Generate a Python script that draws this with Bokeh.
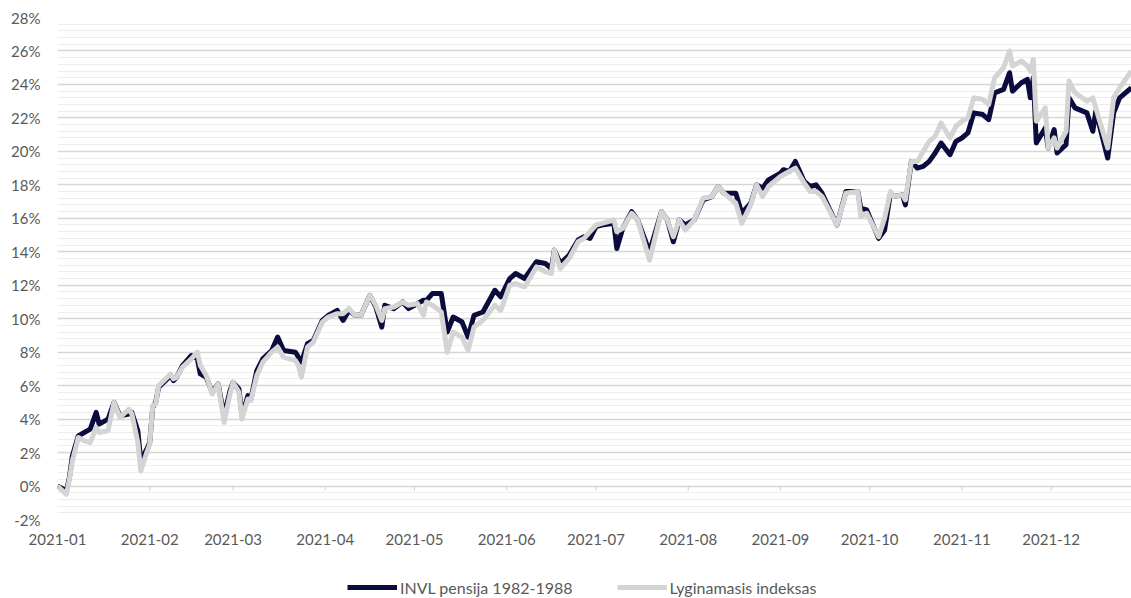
from datetime import datetime
import pandas as pd
from bokeh.plotting import figure
from bokeh.layouts import column
from bokeh.models import (ColumnDataSource, Range1d, FixedTicker, SingleIntervalTicker,
                          DatetimeTickFormatter, PrintfTickFormatter, Legend, LegendItem)
from bokeh.embed import file_html
from bokeh.resources import INLINE

dates = ["2021-01-01", "2021-01-04", "2021-01-05", "2021-01-06", "2021-01-08", "2021-01-10",
         "2021-01-12", "2021-01-14", "2021-01-15", "2021-01-18", "2021-01-20", "2021-01-22",
         "2021-01-25", "2021-01-26", "2021-01-28", "2021-01-29", "2021-01-31", "2021-02-01",
         "2021-02-02", "2021-02-03", "2021-02-04", "2021-02-08", "2021-02-09", "2021-02-10",
         "2021-02-12", "2021-02-15", "2021-02-17", "2021-02-18", "2021-02-20", "2021-02-22",
         "2021-02-24", "2021-02-26", "2021-02-28", "2021-03-01", "2021-03-03", "2021-03-04",
         "2021-03-06", "2021-03-07", "2021-03-09", "2021-03-11", "2021-03-14", "2021-03-16",
         "2021-03-18", "2021-03-22", "2021-03-23", "2021-03-24", "2021-03-26", "2021-03-28",
         "2021-03-31", "2021-04-02", "2021-04-05", "2021-04-07", "2021-04-09", "2021-04-11",
         "2021-04-13", "2021-04-16", "2021-04-18", "2021-04-20", "2021-04-21", "2021-04-24",
         "2021-04-27", "2021-04-29", "2021-05-02", "2021-05-04", "2021-05-05", "2021-05-07",
         "2021-05-10", "2021-05-12", "2021-05-14", "2021-05-17", "2021-05-19", "2021-05-21",
         "2021-05-24", "2021-05-28", "2021-05-30", "2021-06-02", "2021-06-04", "2021-06-07",
         "2021-06-11", "2021-06-14", "2021-06-16", "2021-06-17", "2021-06-19", "2021-06-22",
         "2021-06-25", "2021-06-27", "2021-06-29", "2021-07-01", "2021-07-03", "2021-07-07",
         "2021-07-08", "2021-07-10", "2021-07-13", "2021-07-15", "2021-07-19", "2021-07-23",
         "2021-07-25", "2021-07-27", "2021-07-29", "2021-07-31", "2021-08-03", "2021-08-06",
         "2021-08-09", "2021-08-11", "2021-08-13", "2021-08-17", "2021-08-19", "2021-08-22",
         "2021-08-24", "2021-08-26", "2021-08-28", "2021-09-01", "2021-09-02", "2021-09-04",
         "2021-09-06", "2021-09-09", "2021-09-11", "2021-09-13", "2021-09-15", "2021-09-20",
         "2021-09-23", "2021-09-27", "2021-09-28", "2021-09-30", "2021-10-04", "2021-10-06",
         "2021-10-08", "2021-10-09", "2021-10-12", "2021-10-13", "2021-10-15", "2021-10-17",
         "2021-10-19", "2021-10-21", "2021-10-23", "2021-10-25", "2021-10-28", "2021-10-30",
         "2021-11-01", "2021-11-03", "2021-11-05", "2021-11-08", "2021-11-10", "2021-11-12",
         "2021-11-15", "2021-11-17", "2021-11-18", "2021-11-21", "2021-11-23", "2021-11-24",
         "2021-11-25", "2021-11-26", "2021-11-29", "2021-11-30", "2021-12-02", "2021-12-03",
         "2021-12-06", "2021-12-07", "2021-12-09", "2021-12-13", "2021-12-15", "2021-12-16",
         "2021-12-20", "2021-12-22", "2021-12-24", "2021-12-28"]

invl_pensija = [0.0, -0.3, 0.5, 1.8, 3.0, 3.2,
                3.4, 4.4, 3.7, 4.0, 5.0, 4.2,
                4.3, 4.4, 3.3, 1.5, 2.2, 2.6,
                4.7, 5.0, 5.9, 6.6, 6.3, 6.5,
                7.2, 7.8, 7.6, 6.7, 6.5, 5.6,
                6.1, 4.2, 5.7, 6.2, 5.8, 4.2,
                5.4, 5.2, 6.9, 7.6, 8.1, 8.9,
                8.1, 8.0, 7.7, 7.4, 8.5, 8.7,
                9.9, 10.2, 10.5, 9.9, 10.5, 10.2,
                10.2, 11.4, 10.7, 9.5, 10.8, 10.6,
                11.0, 10.6, 10.9, 11.1, 11.1, 11.5,
                11.5, 9.2, 10.1, 9.8, 8.9, 10.2,
                10.4, 11.7, 11.3, 12.4, 12.7, 12.4,
                13.4, 13.3, 13.0, 14.1, 13.3, 13.8,
                14.7, 14.9, 14.8, 15.5, 15.6, 15.7,
                14.2, 15.4, 16.4, 15.9, 14.0, 16.4,
                15.9, 14.6, 15.9, 15.6, 15.9, 17.1,
                17.3, 17.9, 17.5, 17.5, 16.3, 16.9,
                18.0, 17.8, 18.3, 18.7, 18.9, 18.8,
                19.4, 18.2, 17.9, 18.0, 17.5, 15.6,
                17.6, 17.6, 16.6, 16.5, 14.8, 15.3,
                17.5, 17.3, 17.4, 16.8, 19.4, 19.0,
                19.1, 19.4, 19.9, 20.5, 19.8, 20.6,
                20.8, 21.1, 22.3, 22.2, 21.9, 23.5,
                23.7, 24.7, 23.6, 24.1, 24.3, 23.2,
                24.4, 20.5, 21.4, 20.2, 21.3, 19.9,
                20.4, 23.2, 22.6, 22.3, 21.2, 22.4,
                19.6, 22.3, 23.2, 23.8]

lyginamasis_indeksas = [0.0, -0.5, 0.4, 1.5, 2.9, 2.7,
                        2.6, 3.5, 3.2, 3.3, 5.0, 4.1,
                        4.6, 4.3, 2.6, 0.9, 2.0, 2.5,
                        4.8, 4.9, 6.0, 6.7, 6.4, 6.5,
                        7.1, 7.6, 8.0, 7.2, 6.6, 5.5,
                        6.1, 3.8, 5.5, 6.2, 5.6, 4.0,
                        5.2, 5.1, 6.6, 7.4, 8.0, 8.3,
                        7.7, 7.5, 7.2, 6.5, 8.3, 8.6,
                        9.8, 10.1, 10.3, 10.3, 10.6, 10.2,
                        10.2, 11.4, 10.8, 9.9, 10.6, 10.7,
                        11.0, 10.8, 10.9, 10.2, 11.0, 10.8,
                        10.4, 8.0, 9.2, 8.9, 8.1, 9.5,
                        9.9, 10.8, 10.5, 12.0, 12.1, 11.9,
                        13.1, 12.8, 12.7, 14.1, 13.0, 13.6,
                        14.6, 14.8, 15.2, 15.6, 15.7, 15.9,
                        15.2, 15.4, 16.3, 15.9, 13.5, 16.4,
                        15.9, 14.9, 15.9, 15.3, 15.9, 17.2,
                        17.3, 17.9, 17.5, 16.9, 15.7, 16.8,
                        18.0, 17.3, 17.9, 18.5, 18.6, 18.8,
                        19.0, 18.1, 17.6, 17.6, 17.3, 15.6,
                        17.5, 17.6, 16.1, 16.3, 14.9, 16.0,
                        17.6, 17.3, 17.4, 17.1, 19.4, 19.4,
                        20.0, 20.6, 20.9, 21.7, 20.8, 21.5,
                        21.8, 22.0, 23.2, 23.1, 22.8, 24.4,
                        25.0, 26.0, 25.1, 25.4, 25.1, 24.8,
                        25.5, 21.8, 22.6, 20.2, 20.8, 20.2,
                        21.2, 24.2, 23.5, 23.0, 23.2, 22.6,
                        20.2, 23.2, 23.8, 24.8]

month_ticks = ["2021-01-01", "2021-02-01", "2021-03-01", "2021-04-01", "2021-05-01", "2021-06-01",
               "2021-07-01", "2021-08-01", "2021-09-01", "2021-10-01", "2021-11-01", "2021-12-01"]

series_names = ["INVL pensija 1982-1988", "Lyginamasis indeksas"]

FONT = "Lato"
TXT = "#595959"
DARK = "#0b0b3d"
GREY = "#d4d4d4"

dt = pd.to_datetime(dates)
src = ColumnDataSource(dict(x=dt, a=invl_pensija, b=lyginamasis_indeksas))
mt = pd.to_datetime(month_ticks)
tick_ms = [t.timestamp() * 1000 for t in mt]

# ---------------- main chart ----------------
p = figure(width=1131, height=560, x_axis_type="datetime", output_backend="svg",
           toolbar_location=None,
           x_range=Range1d(datetime(2021, 1, 1), datetime(2021, 12, 28)),
           y_range=Range1d(-2, 28),
           min_border_left=57, min_border_right=0, min_border_top=17, min_border_bottom=41)
p.outline_line_color = None
p.background_fill_color = "white"
p.border_fill_color = "white"

p.yaxis.ticker = SingleIntervalTicker(interval=2, num_minor_ticks=5)
p.yaxis.formatter = PrintfTickFormatter(format="%d%%")
p.yaxis.axis_line_color = None
p.yaxis.major_tick_line_color = None
p.yaxis.minor_tick_line_color = None
p.yaxis.major_label_text_font = FONT
p.yaxis.major_label_text_font_size = "15px"
p.yaxis.major_label_text_color = TXT
p.yaxis.major_label_standoff = 11

p.ygrid.grid_line_color = "#d6d6d6"
p.ygrid.grid_line_width = 1.5
p.ygrid.minor_grid_line_color = "#ededed"
p.ygrid.minor_grid_line_width = 1
p.xgrid.grid_line_color = None

p.xaxis.ticker = FixedTicker(ticks=tick_ms)
fmt = "%Y-%m"
p.xaxis.formatter = DatetimeTickFormatter(microseconds=fmt, milliseconds=fmt, seconds=fmt,
                                          minsec=fmt, minutes=fmt, hourmin=fmt, hours=fmt,
                                          days=fmt, months=fmt, years=fmt)
p.xaxis.axis_line_color = None
p.xaxis.major_tick_line_color = None
p.xaxis.minor_tick_line_color = None
p.xaxis.major_label_text_font = FONT
p.xaxis.major_label_text_font_size = "15px"
p.xaxis.major_label_text_color = TXT
p.xaxis.major_label_standoff = 8

# small tick marks on the 0% line
p.segment(x0=mt[1:], y0=0, x1=mt[1:], y1=-0.28, line_color="#cfcfcf", line_width=1)

p.line("x", "a", source=src, line_color=DARK, line_width=5, line_join="round")
p.line("x", "b", source=src, line_color=GREY, line_width=5, line_join="round")

# ---------------- legend strip ----------------
lg = figure(width=1131, height=38, output_backend="svg", toolbar_location=None,
            x_axis_location=None, y_axis_location=None,
            x_range=Range1d(0, 1), y_range=Range1d(0, 1),
            min_border_left=0, min_border_right=0, min_border_top=0, min_border_bottom=0)
lg.outline_line_color = None
lg.grid.grid_line_color = None
lg.background_fill_color = "white"
lg.border_fill_color = "white"
# same series, outside the strip's ranges: only used for the legend keys
l1 = lg.line("x", "a", source=src, line_color=DARK, line_width=5)
l2 = lg.line("x", "b", source=src, line_color=GREY, line_width=5)

legend = Legend(items=[LegendItem(label=series_names[0], renderers=[l1]),
                       LegendItem(label=series_names[1], renderers=[l2])],
                orientation="horizontal", location=(290, 1))
legend.border_line_color = None
legend.background_fill_alpha = 0
legend.padding = 0
legend.margin = 0
legend.spacing = 44
legend.label_standoff = 3
legend.glyph_width = 50
legend.glyph_height = 20
legend.label_text_font = FONT
legend.label_text_font_size = "16px"
legend.label_text_color = TXT
lg.add_layout(legend)

layout = column(p, lg, spacing=0)
open("out.html", "w").write(file_html(layout, INLINE))
